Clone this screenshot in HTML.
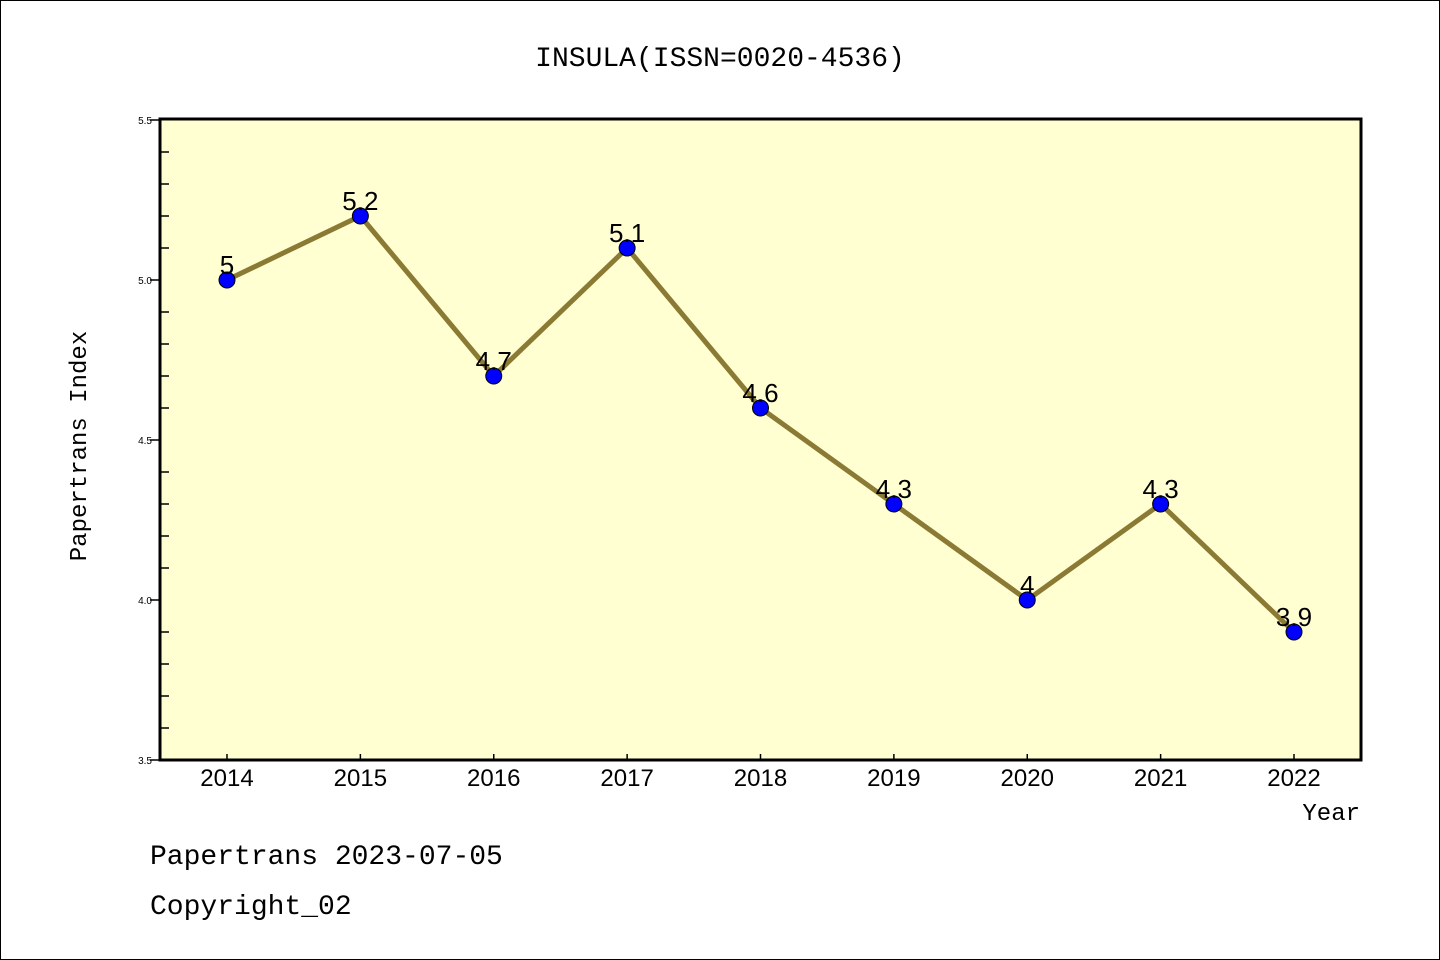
<!DOCTYPE html>
<html><head><meta charset="utf-8"><style>
html,body{margin:0;padding:0;background:#fff}
svg{display:block}
text{font-family:"Liberation Sans","DejaVu Sans",sans-serif}
.mono{font-family:"Liberation Mono","DejaVu Sans Mono",monospace}
</style></head><body>
<svg id="chart" width="1440" height="960">
<rect x="0.5" y="0.5" width="1439" height="959" fill="#fff" stroke="#000"/>
<text class="mono" x="720" y="66" font-size="28" text-anchor="middle">INSULA(ISSN=0020-4536)</text>
<rect x="160" y="119" width="1201" height="641" fill="#ffffd2"/>
<g id="ticks"></g>
<g id="marks"></g>
<rect x="160" y="119" width="1201" height="641" fill="none" stroke="#000" stroke-width="3"/>
<text class="mono" x="86" y="446" font-size="24" text-anchor="middle" transform="rotate(-90 86 446)">Papertrans Index</text>
<text class="mono" x="1360" y="820" font-size="24" text-anchor="end">Year</text>
<text class="mono" x="150" y="864" font-size="28">Papertrans 2023-07-05</text>
<text class="mono" x="150" y="914" font-size="28">Copyright_02</text>
</svg>
<script>
const years=[2014,2015,2016,2017,2018,2019,2020,2021,2022];
const values=[5,5.2,4.7,5.1,4.6,4.3,4,4.3,3.9];
const labels=["5","5.2","4.7","5.1","4.6","4.3","4","4.3","3.9"];
const yTicks=["3.5","4.0","4.5","5.0","5.5"];
const NS="http://www.w3.org/2000/svg";
const x=v=>227+(v-2014)*(1294-227)/8;
const y=v=>760-(v-3.5)*320;
function mk(t,a,p){const e=document.createElementNS(NS,t);for(const k in a)e.setAttribute(k,a[k]);p.appendChild(e);return e;}
const tg=document.getElementById('ticks'),mg=document.getElementById('marks');
for(let i=0;i<=20;i++){const v=3.5+i*0.1;const major=i%5===0;
 const l=mk('line',{x1:major?150:160,x2:major?160:169,y1:y(v),y2:y(v),stroke:'#000','stroke-width':1.5},tg);
 }
yTicks.forEach(s=>{const t=mk('text',{x:152,y:y(parseFloat(s))+4,'font-size':10,'text-anchor':'end'},tg);t.textContent=s;
 });
years.forEach(yr=>{const l=mk('line',{x1:x(yr),x2:x(yr),y1:754,y2:760,stroke:'#000','stroke-width':1.5},tg);
 
 const t=mk('text',{x:x(yr),y:786,'font-size':24,'text-anchor':'middle'},tg);t.textContent=yr;
 });
const pl=mk('polyline',{points:years.map((yr,i)=>x(yr)+','+y(values[i])).join(' '),fill:'none',stroke:'#8b7a33','stroke-width':5},mg);

years.forEach((yr,i)=>{const c=mk('circle',{cx:x(yr),cy:y(values[i]),r:8,fill:'#0000ff',stroke:'#000','stroke-width':1},mg);
 
 const t=mk('text',{x:x(yr),y:y(values[i])-6,'font-size':26,'text-anchor':'middle'},mg);t.textContent=labels[i];
 });
</script>
</body></html>
